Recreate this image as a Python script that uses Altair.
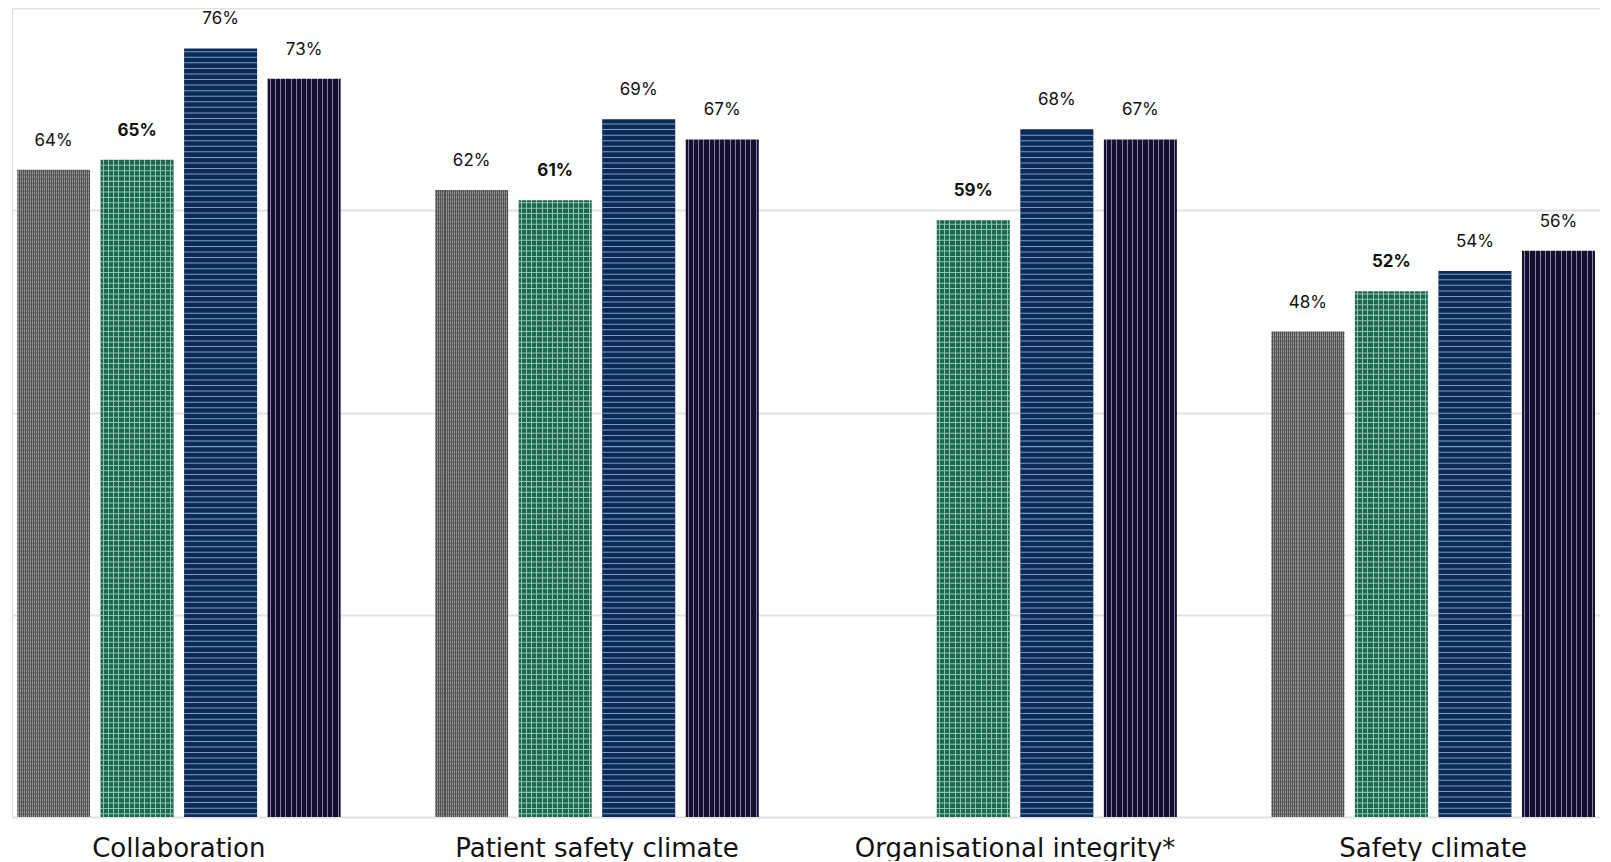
import altair as alt
import pandas as pd

categories = ["Collaboration", "Patient safety climate", "Organisational integrity*", "Safety climate"]
series_names = ["Comparator", "Organisation", "Comparator A", "Comparator B"]
comparator = [64, 62, None, 48]
organisation = [65, 61, 59, 52]
comparator_a = [76, 69, 68, 54]
comparator_b = [73, 67, 67, 56]

rows = []
for s, vals in zip(series_names, [comparator, organisation, comparator_a, comparator_b]):
    for c, v in zip(categories, vals):
        if v is not None:
            rows.append({"category": c, "series": s, "value": v, "label": f"{v}%"})
df = pd.DataFrame(rows)

FONT = "Inter"
AXIS_FONT = "DejaVu Sans"


def stripes(base, line, n, frac):
    """vertical line pattern as a sharp-stop linear gradient"""
    stops = [alt.GradientStop(color=base, offset=0)]
    for i in range(n):
        p = (i + 0.5) / n
        a = max(0.0, p - frac / 2)
        b = min(1.0, p + frac / 2)
        stops += [
            alt.GradientStop(color=base, offset=a),
            alt.GradientStop(color=line, offset=a),
            alt.GradientStop(color=line, offset=b),
            alt.GradientStop(color=base, offset=b),
        ]
    stops.append(alt.GradientStop(color=base, offset=1))
    return alt.Gradient(gradient="linear", stops=stops, x1=0, x2=1, y1=0, y2=0)


x_enc = alt.X(
    "category:N",
    sort=categories,
    scale=alt.Scale(paddingInner=0.226, paddingOuter=0.012),
    axis=alt.Axis(title=None, labelAngle=0, domain=False, ticks=False,
                  labelFontSize=26, labelFont=AXIS_FONT, labelColor="#111111",
                  labelPadding=18, labelLimit=0),
)
xo_enc = alt.XOffset("series:N", sort=series_names,
                     scale=alt.Scale(domain=series_names, paddingInner=0.126, paddingOuter=0))
y_scale = alt.Scale(domain=[0, 80], nice=False)
y_axis = alt.Axis(title=None, labels=False, ticks=False, domain=False, grid=True,
                  values=[0, 20, 40, 60, 80], gridColor="#e2e2e2", gridWidth=2)

base = alt.Chart(df)

styles = {
    "Comparator": dict(fill=stripes("#969696", "#505050", 37, 1 / 74), h="#555555", step=0.4, th=0.15, op=0.55),
    "Organisation": dict(fill=stripes("#1b6850", "#94c2b0", 14, 1 / 73), h="#94c2b0", step=0.53, th=0.1, op=1),
    "Comparator A": dict(fill="#0b2b56", h="#7e9ec6", step=0.55, th=0.1, op=1),
    "Comparator B": dict(fill=stripes("#141130", "#8a83a3", 14, 1 / 73), h=None),
}

layers = []
for s in series_names:
    st = styles[s]
    layers.append(
        base.transform_filter(alt.datum.series == s)
        .mark_bar(fill=st["fill"], strokeWidth=0)
        .encode(x=x_enc, xOffset=xo_enc,
                y=alt.Y("value:Q", scale=y_scale, axis=y_axis))
    )
    if st["h"]:
        layers.append(
            base.transform_filter(alt.datum.series == s)
            .transform_calculate(stripe=f"sequence({st['step']/2}, datum.value - {st['th']}, {st['step']})")
            .transform_flatten(["stripe"])
            .transform_calculate(stripe2=f"datum.stripe + {st['th']}")
            .mark_bar(color=st["h"], opacity=st["op"], strokeWidth=0)
            .encode(x=x_enc, xOffset=xo_enc,
                    y=alt.Y("stripe:Q", scale=y_scale, axis=y_axis),
                    y2="stripe2:Q")
        )

for cond, weight in [(alt.datum.series != "Organisation", "normal"), (alt.datum.series == "Organisation", "bold")]:
    layers.append(
        base.transform_filter(cond)
        .mark_text(baseline="alphabetic", dy=-24, fontSize=17, font=FONT, color="#111111", fontWeight=weight)
        .encode(x=x_enc, xOffset=xo_enc,
                y=alt.Y("value:Q", scale=y_scale, axis=y_axis),
                text="label:N")
    )

chart = alt.layer(*layers).properties(
    width=1588, height=809,
    padding={"left": 4, "top": 0, "right": 0, "bottom": 0},
).configure_view(stroke=None).configure(background="white")

chart.save("out.html", embed_options={"renderer": "svg", "actions": False})
